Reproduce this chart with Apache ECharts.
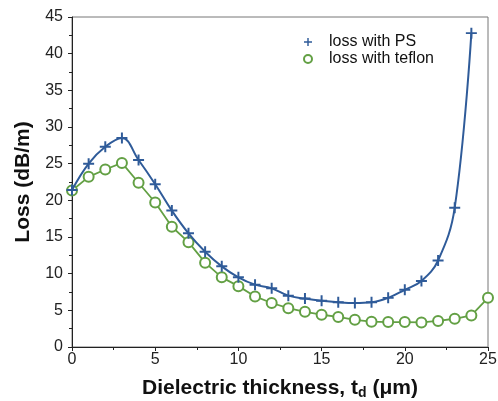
<!DOCTYPE html>
<html>
<head>
<meta charset="utf-8">
<script src="https://cdn.jsdelivr.net/npm/echarts@6/dist/echarts.min.js"></script>
<style>
html,body{margin:0;padding:0;background:#fff;}
#main{width:498px;height:401px;}
</style>
</head>
<body>
<div id="main"></div>
<script>
// 数据
var x_ps = [0,1,2,3,4,5,6,7,8,9,10,11,12,13,14,15,16,17,18,19,20,21,22,23,24];
var y_ps = [21.4,25.0,27.3,28.5,25.5,22.2,18.6,15.5,13.0,11.0,9.5,8.5,8.0,7.0,6.6,6.3,6.1,6.0,6.1,6.7,7.8,9.0,11.8,19.0,42.8];
var x_teflon = [0,1,2,3,4,5,6,7,8,9,10,11,12,13,14,15,16,17,18,19,20,21,22,23,24,25];
var y_teflon = [21.35,23.2,24.2,25.1,22.4,19.7,16.4,14.3,11.5,9.5,8.3,6.9,6.0,5.3,4.8,4.4,4.1,3.7,3.45,3.4,3.4,3.35,3.55,3.85,4.3,6.7];
var x_ticks = [0,5,10,15,20,25];
var y_ticks = [0,5,10,15,20,25,30,35,40,45];

var blue = '#2f5b99';
var green = '#63a044';
var font = 'Liberation Sans, Arial, sans-serif';
var plusIcon = 'path://M4.1,0H5.9V4.1H10V5.9H5.9V10H4.1V5.9H0V4.1H4.1Z';

function pairs(xs, ys){
	var out = [];
	for (var i = 0; i < xs.length; i++) out.push([xs[i], ys[i]]);
	return out;
}

var myChart = echarts.init(document.getElementById('main'));
var option = {
	animation: false,
	textStyle: { fontFamily: font },
	grid: {
		left: 72, right: 10, top: 17, bottom: 54,
		outerBoundsMode: 'none',
		containLabel: false,
		show: true, borderColor: '#777', borderWidth: 1
	},
	legend: {
		orient: 'vertical',
		left: 298, top: 29,
		itemWidth: 32, itemHeight: 8, itemGap: 1,
		symbolKeepAspect: true,
		textStyle: { fontSize: 16, color: '#111', fontFamily: font },
		data: [
			{ name: 'loss with PS', icon: plusIcon },
			{ name: 'loss with teflon', icon: 'emptyCircle' }
		]
	},
	xAxis: {
		type: 'value',
		min: x_ticks[0], max: x_ticks[x_ticks.length - 1], interval: 5,
		name: '{b|Dielectric thickness, t}{s|d}{b| (μm)}',
		nameLocation: 'middle', nameGap: 30,
		nameTextStyle: {
			rich: {
				b: { fontSize: 21, fontWeight: 'bold', color: '#111', fontFamily: font },
				s: { fontSize: 14, fontWeight: 'bold', color: '#111', verticalAlign: 'bottom', padding: [9,0,0,0], fontFamily: font }
			}
		},
		axisLine: { lineStyle: { color: '#222', width: 1 } },
		axisTick: { length: 4, lineStyle: { color: '#222' } },
		minorTick: { show: true, splitNumber: 2, length: 3, lineStyle: { color: '#222' } },
		splitLine: { show: false },
		axisLabel: { fontSize: 16, color: '#222', margin: 5 }
	},
	yAxis: {
		type: 'value',
		min: y_ticks[0], max: y_ticks[y_ticks.length - 1], interval: 5,
		name: 'Loss (dB/m)',
		nameLocation: 'middle', nameGap: 38,
		nameTextStyle: { fontSize: 21, fontWeight: 'bold', color: '#111' },
		axisLine: { show: true, lineStyle: { color: '#222', width: 1 } },
		axisTick: { show: true, length: 4, lineStyle: { color: '#222' } },
		minorTick: { show: true, splitNumber: 2, length: 3, lineStyle: { color: '#222' } },
		splitLine: { show: false },
		axisLabel: { fontSize: 16, color: '#222', margin: 9 }
	},
	series: [
		{
			name: 'loss with PS',
			type: 'line',
			smooth: 0.4,
			data: pairs(x_ps, y_ps),
			symbol: plusIcon,
			symbolSize: 11,
			itemStyle: { color: blue },
			lineStyle: { color: blue, width: 2 },
			z: 3
		},
		{
			name: 'loss with teflon',
			type: 'line',
			data: pairs(x_teflon, y_teflon),
			symbol: 'emptyCircle',
			symbolSize: 10,
			itemStyle: { color: green, borderWidth: 1.6 },
			lineStyle: { color: green, width: 1.8 },
			z: 2
		}
	]
};
myChart.setOption(option);
</script>
</body>
</html>
